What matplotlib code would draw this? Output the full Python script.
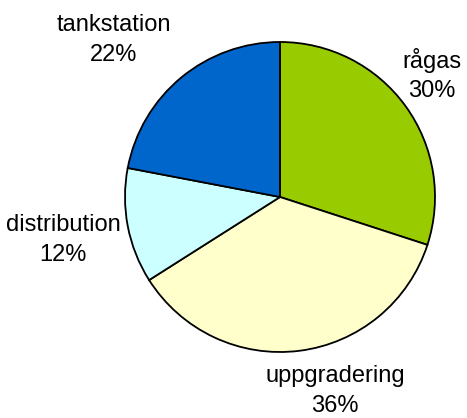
import matplotlib
matplotlib.use("Agg")
import matplotlib.pyplot as plt

categories = ["rågas", "uppgradering", "distribution", "tankstation"]
values = [30, 36, 12, 22]
colors = ["#99CC00", "#FFFFCC", "#CCFFFF", "#0066CC"]

W, H = 467, 418
fig = plt.figure(figsize=(W / 100, H / 100), dpi=100)
ax = fig.add_axes([0, 0, 1, 1])
ax.pie(values, colors=colors, startangle=90, counterclock=False,
       center=(280, H - 197), radius=155, frame=True,
       wedgeprops=dict(edgecolor="black", linewidth=1.3))
ax.set_xlim(0, W)
ax.set_ylim(0, H)
ax.set_aspect("equal")
ax.axis("off")

label_pos = [(432, 75), (335, 391), (63, 240), (114, 40)]
for cat, v, (x, y) in zip(categories, values, label_pos):
    ax.text(x, H - y, f"{cat}\n{v}%", ha="center", va="center",
            fontsize=17, family="Liberation Sans", linespacing=1.45)

fig.savefig("out.png", dpi=100)
